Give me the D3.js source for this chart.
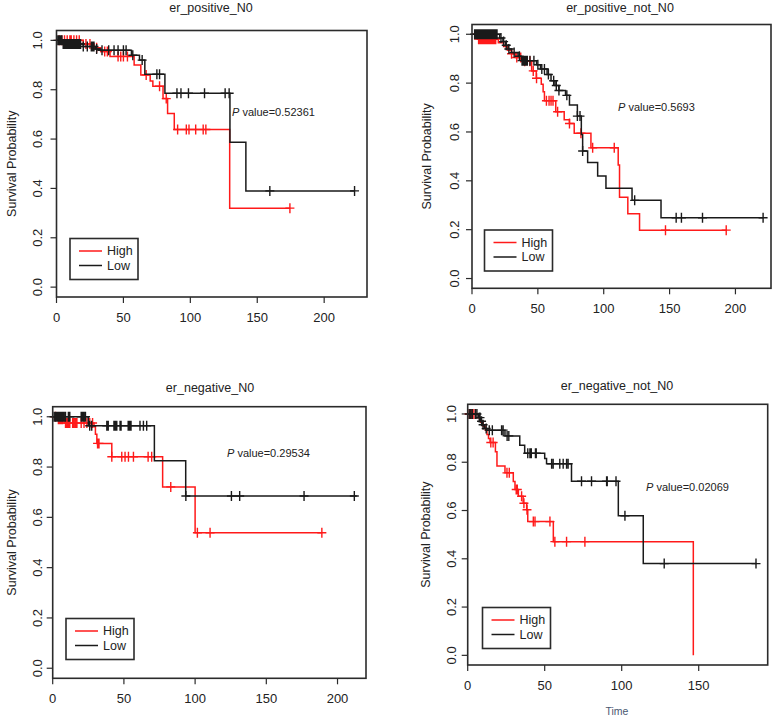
<!DOCTYPE html>
<html>
<head>
<meta charset="utf-8">
<script src="https://cdn.jsdelivr.net/npm/d3@7"></script>
<style>
  body { margin: 0; background: #fff; }
  svg { font-family: "Liberation Sans", Arial, sans-serif; }
  .frame { fill: none; stroke: #2b2b2b; stroke-width: 1.6; }
  .tick { stroke: #2b2b2b; stroke-width: 1.2; }
  .lab { font-size: 13px; fill: #222; }
</style>
</head>
<body>
<script>
// ---- data: KM steps [time, survival] and censor times ----
var titles = ['er_positive_N0', 'er_positive_not_N0', 'er_negative_N0', 'er_negative_not_N0'];
var pValues = ['0.52361', '0.5693', '0.29534', '0.02069'];
var groups = ['High', 'Low'];
var yTicks = [0, 0.2, 0.4, 0.6, 0.8, 1.0];
var xTicksWide = [0, 50, 100, 150, 200];
var xTicksShort = [0, 50, 100, 150];

var p1High = [[0,1],[20,0.985],[28,0.97],[33,0.955],[40,0.935],[58,0.9],[63,0.86],[70,0.835],[72,0.814],[79.6,0.764],[83,0.704],[88,0.639],[129.4,0.32],[174.4,0.32]];
var p1HighCens = [2,4,6,8,10,11,13,15,17,22,25,30,36,38,46,48,50,53,67,77,82,90.5,97,99,104,109.6,111.6,174.4];
var p1Low = [[0,1],[5,0.985],[20,0.975],[29,0.965],[32,0.96],[56,0.94],[62,0.92],[66,0.863],[81,0.786],[129.6,0.587],[141.5,0.39],[222.7,0.39]];
var p1LowCens = [1,2,3,4,5,6,7,8,9,10,11,12,13,14,15,16,17,18,20,23,26,27,28,30,34,39,43,46,50,52,57,64,75,77,90,93,98.6,110.6,126,129,159.4,222.7];

var p2High = [[0,1],[4,0.98],[20,0.965],[24,0.95],[27,0.935],[30,0.92],[33,0.905],[40,0.89],[45.3,0.85],[48.8,0.82],[52.6,0.795],[54,0.765],[55,0.728],[63.6,0.683],[70,0.65],[74,0.635],[77.6,0.595],[90.3,0.535],[111,0.465],[112,0.333],[118.3,0.265],[127.2,0.198],[193,0.198]];
var p2HighCens = [5,6,7,8,9,10,11,12,13,14,15,16,17,18,30,34,37,40,44,46.5,49,56.5,58.5,60,61.5,65,74,82.7,91.6,108,146.9,193];
var p2Low = [[0,1],[21,0.985],[23.5,0.97],[25.5,0.955],[27.5,0.94],[30,0.925],[35,0.91],[37.6,0.892],[49,0.875],[52,0.858],[57,0.835],[60,0.81],[63,0.79],[66,0.77],[71,0.75],[74,0.71],[80,0.665],[83,0.59],[84,0.522],[87.8,0.475],[95.4,0.42],[101.7,0.37],[121.5,0.32],[143.5,0.249],[221,0.249]];
var p2LowCens = [2,3,4,5,6,7,8,9,10,11,12,13,14,15,16,17,18,19,22,24,26,28,32,36,38,39,40,41,42,44,47,50,53,55,58,62,64,66,72,80,82,84,123.5,155,159,175,221];

var p3High = [[0,1],[3,0.99],[8,0.975],[29,0.96],[30,0.93],[31,0.894],[41.5,0.841],[77.2,0.721],[100,0.539],[189,0.539]];
var p3HighCens = [2,4,5,6,7,9,10,11,12,14,15,16,17,20,22,24,26,28,31.5,32.5,41.5,48.5,50.8,53.2,56.7,67,69.5,82.9,101.6,110.5,189];
var p3Low = [[0,1],[25,0.964],[71.4,0.825],[93.4,0.685],[213.5,0.685]];
var p3LowCens = [1,2,3,4,5,6,7,8,9,11,12,20,21,22,23,26,27.4,38,39,43,44,45,47.3,48,53,54,55,61.3,63.7,66,93.5,125.5,131.3,176.5,211.8];

var p4High = [[0,1],[7,0.983],[8.5,0.966],[10,0.949],[11.5,0.932],[12.5,0.915],[13.5,0.898],[14.5,0.882],[18,0.843],[19,0.784],[24.2,0.756],[29.6,0.72],[30.7,0.687],[32.9,0.659],[36,0.63],[38.3,0.603],[39,0.554],[55.6,0.471],[146.5,0]];
var p4HighCens = [1,2,3,4,15,16.5,25.5,27,31.5,32.2,35,36.5,38.5,42.6,43.7,53.4,56.6,64.2,76.1];
var p4Low = [[0,1],[7,0.985],[8.5,0.97],[9.5,0.955],[11,0.94],[12.3,0.933],[24.2,0.909],[33.8,0.87],[37,0.837],[50,0.815],[51.2,0.794],[67.4,0.721],[97.8,0.578],[114,0.38],[187.5,0.38]];
var p4LowCens = [1,2,3,5,6,7.5,8,9,10,12,14,16,22,23,25.6,26.7,39,40.4,41.3,44,44.5,54.5,55.5,59.8,62,64.2,65.2,73.9,80.4,90.2,90.6,96.3,102.1,127.6,187.2];

var layout = [
  { l: 56.5, r: 367, t: 30.5, b: 297, xMax: 232, xt: xTicksWide, tx: 211, ty: 12, ylx: 12, ytx: 37, px: 232, py: 116, leg: [70, 238.5] },
  { l: 472, r: 771, t: 24.5, b: 288.3, xMax: 227, xt: xTicksWide, tx: 620, ty: 12, ylx: 427, ytx: 454, px: 618, py: 111, leg: [484.5, 230] },
  { l: 52.7, r: 366, t: 406.7, b: 678.3, xMax: 220, xt: xTicksWide, tx: 210, ty: 392, ylx: 12, ytx: 37, px: 227, py: 457, leg: [66, 618.5] },
  { l: 467.7, r: 767.7, t: 404.3, b: 665, xMax: 194.8, xt: xTicksShort, tx: 617, ty: 390, ylx: 426, ytx: 451, px: 646, py: 491, leg: [482.5, 607.5] }
];

var curves = [
  [p1High, p1HighCens, p1Low, p1LowCens],
  [p2High, p2HighCens, p2Low, p2LowCens],
  [p3High, p3HighCens, p3Low, p3LowCens],
  [p4High, p4HighCens, p4Low, p4LowCens]
];
var colors = ['#ff1a1a', '#1a1a1a'];

var svg = d3.select('body').append('svg')
  .attr('width', 780)
  .attr('height', 720);

var bis = d3.bisector(function(d) { return d[0]; }).right;

layout.forEach(function(L, i) {
  var g = svg.append('g');
  var x = d3.scaleLinear().domain([0, L.xMax]).range([L.l, L.r]);
  var y = d3.scaleLinear().domain([-0.04, 1.04]).range([L.b, L.t]);

  // title
  g.append('text')
    .attr('x', L.tx).attr('y', L.ty)
    .attr('text-anchor', 'middle')
    .style('font-size', '12.5px').style('fill', '#222')
    .text(titles[i]);

  // y axis label
  g.append('text')
    .attr('transform', 'translate(' + L.ylx + ',' + ((L.t + L.b) / 2) + ') rotate(-90)')
    .attr('text-anchor', 'middle')
    .attr('dy', '0.35em')
    .style('font-size', '12.5px').style('fill', '#222')
    .text('Survival Probability');

  // y ticks
  g.selectAll('.yt').data(yTicks).enter().append('line')
    .attr('class', 'tick')
    .attr('x1', L.l - 6).attr('x2', L.l)
    .attr('y1', function(d) { return y(d); })
    .attr('y2', function(d) { return y(d); });
  g.selectAll('.yl').data(yTicks).enter().append('text')
    .attr('class', 'lab')
    .attr('text-anchor', 'middle')
    .attr('dy', '0.35em')
    .attr('transform', function(d) { return 'translate(' + L.ytx + ',' + y(d) + ') rotate(-90)'; })
    .text(d3.format('.1f'));

  // x ticks
  g.selectAll('.xt').data(L.xt).enter().append('line')
    .attr('class', 'tick')
    .attr('x1', function(d) { return x(d); })
    .attr('x2', function(d) { return x(d); })
    .attr('y1', L.b).attr('y2', L.b + 6);
  g.selectAll('.xl').data(L.xt).enter().append('text')
    .attr('class', 'lab')
    .attr('text-anchor', 'middle')
    .attr('x', function(d) { return x(d); })
    .attr('y', L.b + 25)
    .text(function(d) { return d; });

  // curves
  var line = d3.line()
    .x(function(d) { return x(d[0]); })
    .y(function(d) { return y(d[1]); })
    .curve(d3.curveStepAfter);

  [0, 1].forEach(function(k) {
    var steps = curves[i][k * 2];
    var cens = curves[i][k * 2 + 1];
    g.append('path')
      .attr('d', line(steps))
      .attr('fill', 'none')
      .attr('stroke', colors[k])
      .attr('stroke-width', 1.5);
    g.append('path')
      .attr('d', cens.map(function(t) {
        var s = steps[Math.max(0, bis(steps, t) - 1)][1];
        var cx = x(t), cy = y(s);
        return 'M' + (cx - 4.5) + ',' + cy + 'H' + (cx + 4.5) + 'M' + cx + ',' + (cy - 5) + 'V' + (cy + 5);
      }).join(''))
      .attr('fill', 'none')
      .attr('stroke', colors[k])
      .attr('stroke-width', 1.4);
  });

  // p value
  var pt = g.append('text')
    .attr('x', L.px).attr('y', L.py)
    .style('font-size', '11px').style('fill', '#222');
  pt.append('tspan').style('font-style', 'italic').text('P');
  pt.append('tspan').text(' value=' + pValues[i]);

  // legend
  var lg = g.append('g').attr('transform', 'translate(' + L.leg[0] + ',' + L.leg[1] + ')');
  lg.append('rect')
    .attr('width', 68).attr('height', 41)
    .attr('fill', '#fff').attr('stroke', '#2b2b2b').attr('stroke-width', 1.6);
  groups.forEach(function(name, k) {
    lg.append('line')
      .attr('x1', 9).attr('x2', 32)
      .attr('y1', 12.5 + k * 14.5).attr('y2', 12.5 + k * 14.5)
      .attr('stroke', colors[k]).attr('stroke-width', 1.5);
    lg.append('text')
      .attr('x', 37).attr('y', 12.5 + k * 14.5)
      .attr('dy', '0.35em')
      .style('font-size', '12.5px').style('fill', '#222')
      .text(name);
  });

  // box
  g.append('rect')
    .attr('class', 'frame')
    .attr('x', L.l).attr('y', L.t)
    .attr('width', L.r - L.l).attr('height', L.b - L.t);
});

svg.append('text')
  .attr('x', 617).attr('y', 715)
  .attr('text-anchor', 'middle')
  .style('font-size', '10.5px').style('fill', '#4a5870')
  .text('Time');
</script>
</body>
</html>
